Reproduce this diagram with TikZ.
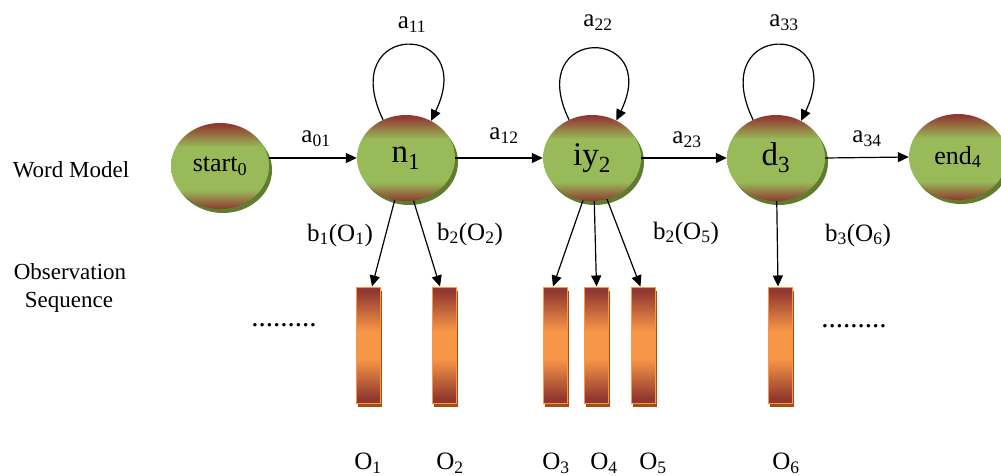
\documentclass[tikz,border=0pt]{standalone}
\usepackage{fontspec}
\setmainfont{Liberation Serif}
\usetikzlibrary{arrows.meta,shapes.geometric,shadows}
\definecolor{cred}{RGB}{145,56,48}
\definecolor{cgreen}{RGB}{152,186,88}
\definecolor{corange}{RGB}{247,150,70}
\definecolor{cshgreen}{RGB}{96,124,46}
\definecolor{cshorange}{RGB}{165,78,16}
\pgfdeclareverticalshading{circgrad}{100bp}{color(0bp)=(cred); color(25bp)=(cred); color(36bp)=(cgreen); color(61bp)=(cgreen); color(74bp)=(cred); color(100bp)=(cred)}
\pgfdeclareverticalshading{rectgrad}{100bp}{color(0bp)=(cred); color(25bp)=(cred); color(27bp)=(cred); color(44bp)=(corange); color(56bp)=(corange); color(73bp)=(cred); color(75bp)=(cred); color(100bp)=(cred)}
\tikzset{
  state/.style={ellipse, minimum width=98pt, minimum height=86pt, inner sep=0pt,
    shade, shading=circgrad,
    drop shadow={shadow xshift=3pt, shadow yshift=-4pt, fill=cshgreen, opacity=1}},
  statebig/.style={state, font=\fontsize{33}{36}\selectfont},
  statesmall/.style={state, font=\fontsize{26}{30}\selectfont},
  obsbox/.style={rectangle, minimum width=24pt, minimum height=116pt, inner sep=0pt,
    draw=corange, line width=1pt, shade, shading=rectgrad,
    drop shadow={shadow xshift=1.5pt, shadow yshift=-4pt, fill=cshorange, opacity=1}},
  lbl/.style={font=\fontsize{25}{28}\selectfont, inner sep=0pt},
  side/.style={font=\fontsize{23}{26}\selectfont, inner sep=0pt},
  dotsx/.style={font=\fontsize{29}{30}\selectfont, inner sep=0pt},
  arr/.style={line width=1.2pt, -{Triangle[length=11pt,width=10pt]}},
  selfloop/.style={line width=1.2pt, -{Triangle[length=11pt,width=10pt]}}
}
\begin{document}
\begin{tikzpicture}[x=1pt,y=-1pt]
\useasboundingbox (0,0) rectangle (1001,476);
% side labels
\node[side] (wm) at (71,170) {Word Model};
\node[side] (obs) at (70,272) {Observation};
\node[side] (seq) at (69,302) {Sequence};
% states
\node[statesmall] (s0) at (220,166) {start\textsubscript{0}};
\node[statebig] (n1) at (406,158) {n\textsubscript{1}};
\node[statebig] (iy2) at (592,158) {iy\textsubscript{2}};
\node[statebig] (d3) at (776,158) {d\textsubscript{3}};
\node[statesmall] (e4) at (958,157) {end\textsubscript{4}};
% observation boxes
\node[obsbox] (o1) at (368,345) {};
\node[obsbox] (o2) at (444,345) {};
\node[obsbox] (o3) at (555,345) {};
\node[obsbox] (o4) at (596.5,345) {};
\node[obsbox] (o5) at (643.5,345) {};
\node[obsbox] (o6) at (780,345) {};
% transitions
\draw[arr] (n1.west -| s0.east) -- (n1.west);
\draw[arr] (n1.east) -- (iy2.west);
\draw[arr] (iy2.east) -- (d3.west);
\draw[arr] (d3.east) -- (e4.west);
% self loops
\draw[selfloop] (n1.121) .. controls +(-48,-100) and +(48,-100) .. (n1.56);
\draw[selfloop] (iy2.121) .. controls +(-46,-95) and +(46,-95) .. (iy2.57);
\draw[selfloop] (d3.121) .. controls +(-48,-100) and +(48,-100) .. (d3.56);
% emissions
\draw[arr] (n1.-105) -- ([xshift=4pt]o1.north);
\draw[arr] (n1.-80) -- ([xshift=-4pt]o2.north);
\draw[arr] (iy2.-102) -- ([xshift=-2pt]o3.north);
\draw[arr] (iy2.-87) -- (o4.north);
\draw[arr] (iy2.-70) -- ([xshift=-3pt]o5.north);
\draw[arr] (d3.-89) -- ([xshift=-2pt]o6.north);
% transition labels
\node[lbl] (a01) at (316,139) {a\textsubscript{01}};
\node[lbl] (a12) at (504,136) {a\textsubscript{12}};
\node[lbl] (a23) at (687,140) {a\textsubscript{23}};
\node[lbl] (a34) at (867,139) {a\textsubscript{34}};
\node[lbl] (a11) at (412,25) {a\textsubscript{11}};
\node[lbl] (a22) at (598,23) {a\textsubscript{22}};
\node[lbl] (a33) at (784,23) {a\textsubscript{33}};
% emission labels
\node[lbl] (b1) at (340,235) {b\textsubscript{1}(O\textsubscript{1})};
\node[lbl] (b2) at (470,234) {b\textsubscript{2}(O\textsubscript{2})};
\node[lbl] (b5) at (686,233) {b\textsubscript{2}(O\textsubscript{5})};
\node[lbl] (b6) at (858,235) {b\textsubscript{3}(O\textsubscript{6})};
% observation labels
\node[lbl] (l1) at (368,463) {O\textsubscript{1}};
\node[lbl] (l2) at (450,463) {O\textsubscript{2}};
\node[lbl] (l3) at (556,463) {O\textsubscript{3}};
\node[lbl] (l4) at (604,463) {O\textsubscript{4}};
\node[lbl] (l5) at (653,463) {O\textsubscript{5}};
\node[lbl] (l6) at (786,463) {O\textsubscript{6}};
% dots
\node[dotsx, anchor=base] (dl) at (284,326) {.........};
\node[dotsx, anchor=base] (dr) at (854,327) {.........};
\end{tikzpicture}
\end{document}
